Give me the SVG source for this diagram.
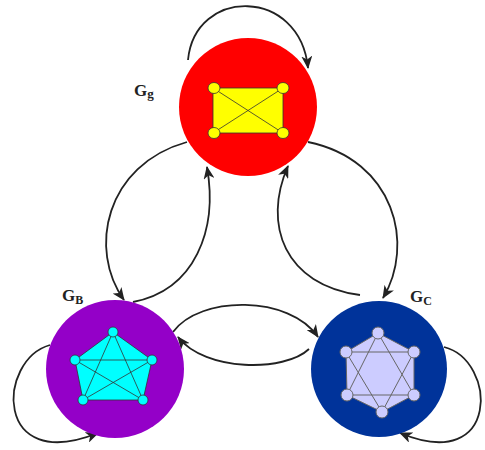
<svg xmlns="http://www.w3.org/2000/svg" width="485" height="450" viewBox="0 0 485 450">
<defs>
<style>
.con{fill:none;stroke:#222;stroke-width:1.8;marker-end:url(#ah)}
.e{stroke:#333;stroke-width:0.8}
.lbl{font-family:"Liberation Serif",serif;font-weight:bold;fill:#222}
</style>
<marker id="ah" markerUnits="userSpaceOnUse" markerWidth="13" markerHeight="11" refX="12" refY="5.5" orient="auto">
<path d="M0,0 L13,5.5 L0,11 L3.5,5.5 z" fill="#222"/>
</marker>
</defs>
<g id="connectors">
<path class="con" d="M188,60 C195,-13 300,-13 308,68"/>
<path class="con" d="M187,142 C105,165 88,250 124,300"/>
<path class="con" d="M133,302 C195,290 218,230 207,167"/>
<path class="con" d="M308,142 C395,160 415,245 383,298"/>
<path class="con" d="M360,295 C285,285 262,225 288,166"/>
<path class="con" d="M173,332 C200,295 290,295 318,337"/>
<path class="con" d="M309,349 C285,372 205,372 178,337"/>
<path class="con" d="M50,345 C-3,360 -7,475 98,433"/>
<path class="con" d="M444,347 C497,360 501,475 400,433"/>
</g>
<g id="Gg">
<circle cx="248" cy="107" r="69" fill="#ff0000"/>
<rect x="213" y="88" width="70" height="45" fill="#ffff00" class="e"/>
<line x1="213" y1="88" x2="283" y2="133" class="e"/>
<line x1="283" y1="88" x2="213" y2="133" class="e"/>
<ellipse cx="214" cy="88" rx="6" ry="5.5" fill="#ffff00" class="e"/>
<ellipse cx="283" cy="88" rx="6" ry="5.5" fill="#ffff00" class="e"/>
<ellipse cx="214" cy="133" rx="6" ry="5.5" fill="#ffff00" class="e"/>
<ellipse cx="283" cy="133" rx="6" ry="5.5" fill="#ffff00" class="e"/>
<text class="lbl" x="134" y="96" font-size="17">G<tspan font-size="13" dy="2">g</tspan></text>
</g>
<g id="GB">
<circle cx="115" cy="369" r="69" fill="#9400c8"/>
<polygon points="113,332 152,360 143,400 83,400 75,360" fill="#00ffff" class="e"/>
<polyline points="113,332 143,400 75,360 152,360 83,400 113,332" fill="none" class="e"/>
<circle cx="113" cy="332" r="5" fill="#00ffff" class="e"/>
<circle cx="152" cy="360" r="5" fill="#00ffff" class="e"/>
<circle cx="143" cy="400" r="5" fill="#00ffff" class="e"/>
<circle cx="83" cy="400" r="5" fill="#00ffff" class="e"/>
<circle cx="75" cy="360" r="5" fill="#00ffff" class="e"/>
<text class="lbl" x="62" y="301" font-size="17">G<tspan font-size="12" dy="3">B</tspan></text>
</g>
<g id="GC">
<circle cx="379" cy="369" r="68" fill="#00339a"/>
<polygon points="378,333 414,352 414,395 382,412 347,395 346,352" fill="#ccccff" stroke="#666" stroke-width="1"/>
<polygon points="378,333 414,395 347,395" fill="none" stroke="#666" stroke-width="1"/>
<polygon points="346,352 414,352 382,412" fill="none" stroke="#666" stroke-width="1"/>
<circle cx="378" cy="333" r="6" fill="#ccccff" stroke="#666"/>
<circle cx="414" cy="352" r="6" fill="#ccccff" stroke="#666"/>
<circle cx="414" cy="395" r="6" fill="#ccccff" stroke="#666"/>
<circle cx="382" cy="412" r="6" fill="#ccccff" stroke="#666"/>
<circle cx="347" cy="395" r="6" fill="#ccccff" stroke="#666"/>
<circle cx="346" cy="352" r="6" fill="#ccccff" stroke="#666"/>
<text class="lbl" x="410" y="302" font-size="17">G<tspan font-size="12" dy="3">C</tspan></text>
</g>
</svg>
